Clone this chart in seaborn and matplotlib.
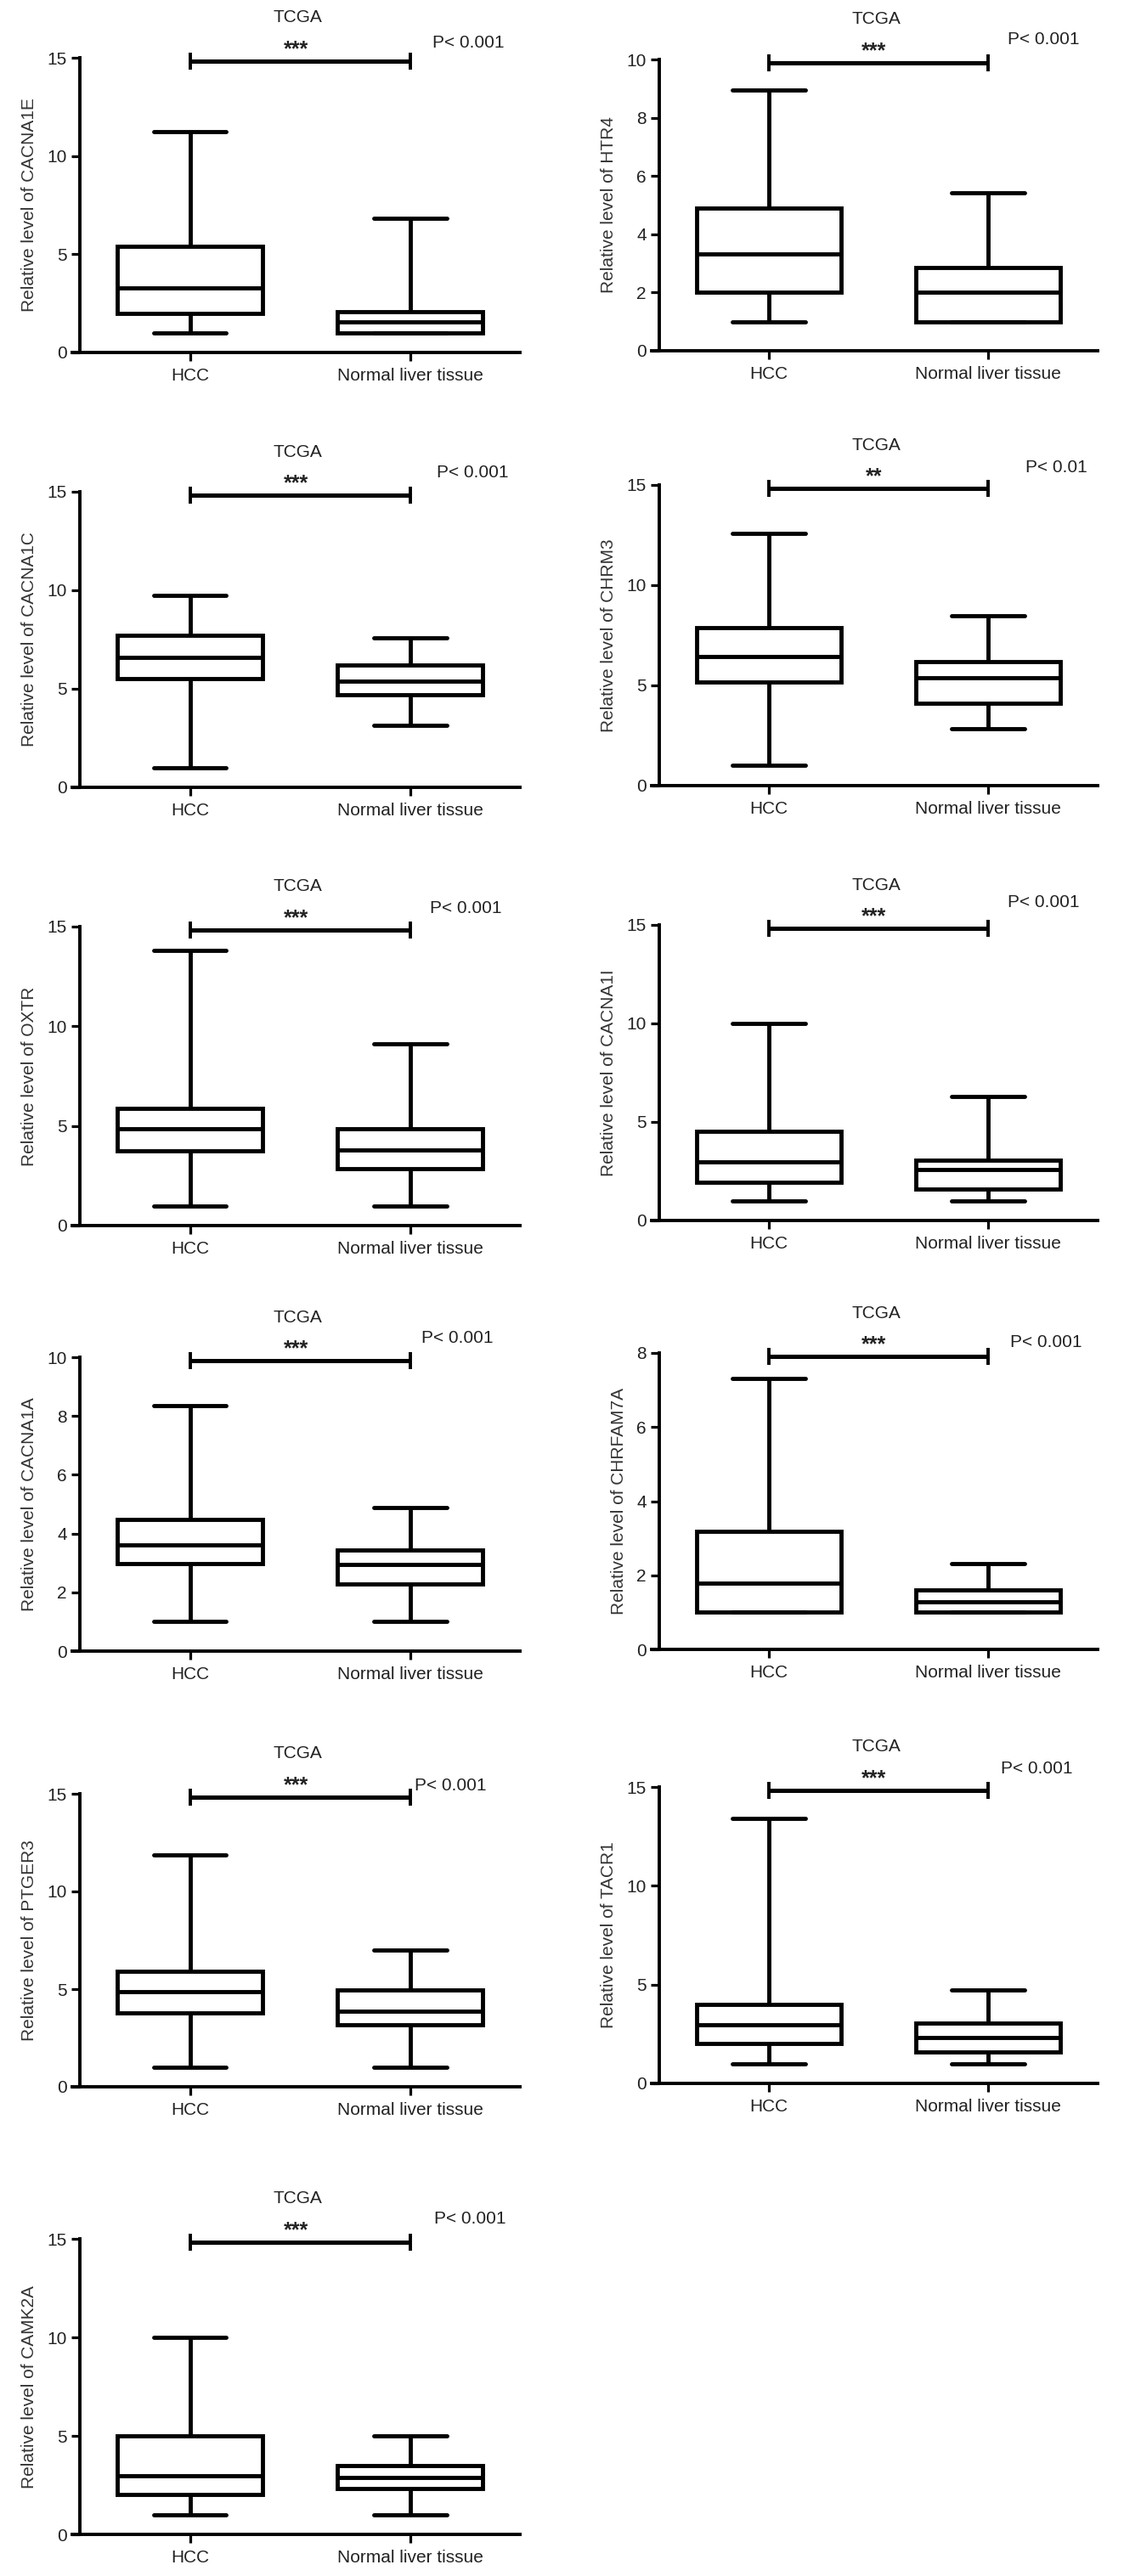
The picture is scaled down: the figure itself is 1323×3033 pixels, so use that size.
import numpy as np
import pandas as pd
import matplotlib
matplotlib.use("Agg")
import matplotlib.pyplot as plt
import seaborn as sns

# ---------------- data ----------------
genes = ["CACNA1E", "HTR4", "CACNA1C", "CHRM3", "OXTR", "CACNA1I",
         "CACNA1A", "CHRFAM7A", "PTGER3", "TACR1", "CAMK2A"]
groups = ["HCC", "Normal liver tissue"]

hcc_min = [1.0, 1.0, 1.0, 1.0, 1.0, 1.0, 1.0, 1.0, 1.0, 1.0, 1.0]
hcc_q1 = [2.0, 2.0, 5.5, 5.16, 3.74, 1.93, 2.99, 1.0, 3.77, 2.0, 2.01]
hcc_med = [3.3, 3.32, 6.6, 6.46, 4.87, 2.98, 3.6, 1.79, 4.88, 2.98, 2.99]
hcc_q3 = [5.4, 4.9, 7.7, 7.87, 5.9, 4.51, 4.47, 3.18, 5.9, 3.98, 5.0]
hcc_max = [11.25, 8.96, 9.72, 12.6, 13.8, 10.0, 8.36, 7.32, 11.88, 13.4, 10.0]

nor_min = [1.0, 1.0, 3.15, 2.85, 1.0, 1.0, 1.0, 1.0, 1.0, 1.0, 1.0]
nor_q1 = [1.0, 1.0, 4.7, 4.13, 2.84, 1.58, 2.29, 1.0, 3.16, 1.57, 2.34]
nor_med = [1.57, 2.0, 5.4, 5.4, 3.8, 2.58, 2.94, 1.28, 3.88, 2.33, 2.87]
nor_q3 = [2.07, 2.87, 6.2, 6.17, 4.84, 3.08, 3.44, 1.6, 4.97, 3.05, 3.49]
nor_max = [6.85, 5.42, 7.6, 8.46, 9.1, 6.3, 4.87, 2.32, 7.0, 4.74, 5.0]

y_max = [15, 10, 15, 15, 15, 15, 10, 8, 15, 15, 15]
y_step = [5, 2, 5, 5, 5, 5, 2, 2, 5, 5, 5]
sig_marks = ["***", "***", "***", "**", "***", "***", "***", "***", "***", "***", "***"]
p_texts = ["P< 0.001", "P< 0.001", "P< 0.001", "P< 0.01", "P< 0.001", "P< 0.001",
           "P< 0.001", "P< 0.001", "P< 0.001", "P< 0.001", "P< 0.001"]

# ---------------- layout (pixels) ----------------
W, H = 1323, 3033
col_x = [(85, 612.5), (767, 1292)]
row_y = [[(68, 415), (70, 413)],
         [(579, 927), (571, 925)],
         [(1091, 1443), (1089, 1437)],
         [(1598, 1944), (1593, 1942)],
         [(2112, 2457), (2104, 2453)],
         [(2636, 2984)]]
p_off_px = [18, 23, 23, 21, 21, 26, 23, 13, 9, 22, 24]
p_left = [1.10, 1.09, 1.12, 1.17, 1.09, 1.09, 1.05, 1.10, 1.02, 1.06, 1.11]

sns.set_theme(style="ticks")
plt.rcParams["font.family"] = ["Liberation Sans", "DejaVu Sans"]
plt.rcParams["axes.linewidth"] = 2.6

fig = plt.figure(figsize=(W / 100, H / 100), dpi=100)
PX = 0.72  # points per pixel at 100 dpi

for i, g in enumerate(genes):
    r, c = divmod(i, 2)
    x0, x1 = col_x[c]
    yt, yb = row_y[r][c]
    hpx = yb - yt
    ax = fig.add_axes([x0 / W, 1 - yb / H, (x1 - x0) / W, hpx / H])

    df = pd.DataFrame({
        "group": [groups[0]] * 5 + [groups[1]] * 5,
        "value": [hcc_min[i], hcc_q1[i], hcc_med[i], hcc_q3[i], hcc_max[i],
                  nor_min[i], nor_q1[i], nor_med[i], nor_q3[i], nor_max[i]],
    })
    sns.boxplot(data=df, x="group", y="value", order=groups, whis=(0, 100),
                width=0.66, color="white", linecolor="black", linewidth=3.5,
                showfliers=False, ax=ax)

    ax.set_xlim(-0.535, 1.5)
    ax.set_ylim(0, y_max[i])
    ax.set_yticks(np.arange(0, y_max[i] + 0.01, y_step[i]))
    ax.set_yticklabels([str(int(v)) for v in np.arange(0, y_max[i] + 0.01, y_step[i])])
    ax.spines["left"].set_position(("data", -0.5))
    ax.spines["right"].set_visible(False)
    ax.spines["top"].set_visible(False)
    for s in ("left", "bottom"):
        ax.spines[s].set_color("black")
        ax.spines[s].set_linewidth(2.8)
    ax.tick_params(axis="both", length=7, width=2.3, color="black",
                   labelsize=15, labelcolor="#222222", pad=4)
    ax.tick_params(axis="x", pad=6)
    ax.set_xlabel("")
    ax.set_ylabel(f"Relative level of {g}", fontsize=15, color="#333333", labelpad=8)
    ax.patch.set_alpha(0)

    tr = ax.get_xaxis_transform()
    yb_frac = 1 - 4 / hpx
    ax.plot([0, 1], [yb_frac, yb_frac], transform=tr, color="black", lw=3.6,
            clip_on=False, solid_capstyle="butt")
    for xx in (0, 1):
        ax.plot([xx, xx], [yb_frac - 10 / hpx, yb_frac + 10 / hpx], transform=tr,
                color="black", lw=2.8, clip_on=False, solid_capstyle="butt")

    ax.annotate("TCGA", xy=(0.49, 1), xycoords=tr, xytext=(0, 47 * PX),
                textcoords="offset points", ha="center", va="center",
                fontsize=15, color="#222222", annotation_clip=False)
    ax.annotate(sig_marks[i], xy=(0.48, 1), xycoords=tr, xytext=(0, 3 * PX),
                textcoords="offset points", ha="center", va="baseline",
                fontsize=18, fontweight="bold", color="#222222", annotation_clip=False)
    ax.annotate(p_texts[i], xy=(p_left[i], 1), xycoords=tr, xytext=(0, p_off_px[i] * PX),
                textcoords="offset points", ha="left", va="center",
                fontsize=15, color="#222222", annotation_clip=False)

fig.savefig("out.png", dpi=100, facecolor="white")
